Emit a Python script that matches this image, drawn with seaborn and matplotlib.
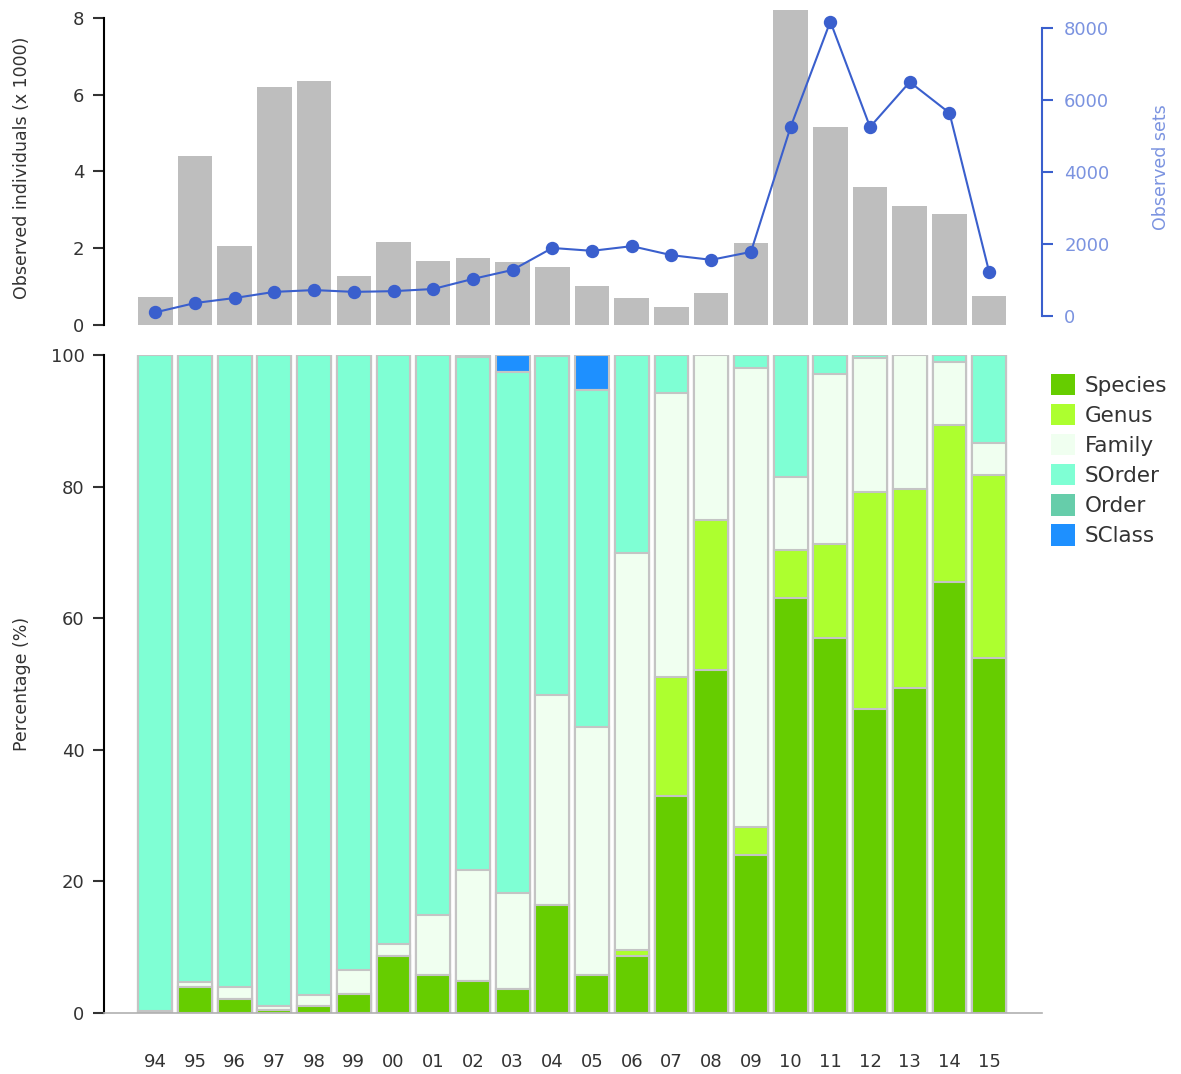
import numpy as np
import pandas as pd
import matplotlib.pyplot as plt
import seaborn as sns
from matplotlib.patches import Patch

years = ['94', '95', '96', '97', '98', '99', '00', '01', '02', '03', '04',
         '05', '06', '07', '08', '09', '10', '11', '12', '13', '14', '15']

# top panel: observed individuals (x 1000) and observed sets
individuals = [0.73, 4.40, 2.06, 6.20, 6.36, 1.28, 2.16, 1.67, 1.75, 1.64, 1.51,
               1.02, 0.70, 0.47, 0.83, 2.14, 8.30, 5.16, 3.60, 3.10, 2.89, 0.76]
obs_sets = [100, 360, 500, 670, 720, 670, 690, 750, 1030, 1280, 1890,
            1810, 1940, 1690, 1560, 1780, 5250, 8180, 5250, 6500, 5640, 1220]

# bottom panel: percentage per taxonomic level
species = [0, 3.9, 2.1, 0.5, 1.0, 2.9, 8.6, 5.8, 4.8, 3.6, 16.4,
           5.8, 8.6, 33.0, 52.1, 24.0, 63.1, 57.0, 46.2, 49.4, 65.5, 54.0]
genus = [0, 0, 0, 0, 0, 0, 0, 0, 0, 0, 0,
         0, 1.0, 18.1, 22.8, 4.3, 7.3, 14.3, 33.0, 30.2, 23.8, 27.8]
family = [0.3, 0.8, 1.8, 0.6, 1.7, 3.6, 1.9, 9.1, 16.9, 14.6, 31.9,
          37.7, 60.3, 43.2, 25.1, 69.8, 11.1, 25.8, 20.4, 20.4, 9.7, 4.9]
sorder = [99.7, 95.3, 96.1, 98.9, 97.3, 93.5, 89.5, 85.1, 78.0, 79.2, 51.5,
          51.2, 30.1, 5.7, 0, 1.9, 18.5, 2.9, 0.4, 0, 1.0, 13.3]
order = [0, 0, 0, 0, 0, 0, 0, 0, 0, 0, 0.2,
         0, 0, 0, 0, 0, 0, 0, 0, 0, 0, 0]
sclass = [0, 0, 0, 0, 0, 0, 0, 0, 0.3, 2.6, 0,
          5.3, 0, 0, 0, 0, 0, 0, 0, 0, 0, 0]

level_names = ['Species', 'Genus', 'Family', 'SOrder', 'Order', 'SClass']
level_colors = ['#66cd00', '#adff2f', '#f0fff0', '#7fffd4', '#66cdaa', '#1e90ff']

sns.set_style("white")
plt.rcParams['font.family'] = ['DejaVu Sans']
plt.rcParams['text.color'] = '#333333'
plt.rcParams['axes.labelcolor'] = '#333333'
plt.rcParams['xtick.color'] = '#333333'
plt.rcParams['ytick.color'] = '#333333'

W, H = 1181, 1074
fig = plt.figure(figsize=(W / 100, H / 100), dpi=100)


def box(l, t, r, b):
    return [l / W, 1 - b / H, (r - l) / W, (b - t) / H]


ax1 = fig.add_axes(box(104, 10, 1042, 325))
ax2 = fig.add_axes(box(104, 355, 1042, 1013))
xlim = (-1.29, 22.33)

# ---- top panel
top = pd.DataFrame({'year': years, 'ind': individuals, 'sets': obs_sets})
sns.barplot(data=top, x='year', y='ind', color='#bebebe', saturation=1,
            width=0.87, edgecolor='none', ax=ax1)
ax1.set_ylim(0, 8.2)
ax1.set_xlim(*xlim)
ax1.set_yticks([0, 2, 4, 6, 8])
ax1.set_xticks([])
ax1.set_xlabel('')
ax1.set_ylabel('Observed individuals (x 1000)', fontsize=12.5)
ax1.yaxis.set_label_coords(-0.078, 0.5)
for s in ['top', 'right', 'bottom']:
    ax1.spines[s].set_visible(False)
ax1.spines['left'].set_bounds(0, 8)
ax1.spines['left'].set_color('black')
ax1.spines['left'].set_linewidth(1.5)
ax1.tick_params(axis='y', length=8, width=1.5, labelsize=13, pad=6,
                direction='out', left=True)

ax1b = ax1.twinx()
sns.pointplot(data=top, x='year', y='sets', color='#3a5fcd', markers='o',
              markersize=8.5, linewidth=1.5, errorbar=None, ax=ax1b)
ax1b.set_xlim(*xlim)
ax1b.set_ylim(-250, 8500)
ax1b.set_yticks([0, 2000, 4000, 6000, 8000])
ax1b.set_xlabel('')
ax1b.set_ylabel('Observed sets', fontsize=12.5, color='#7b93e0')
ax1b.yaxis.set_label_coords(1.117, 0.5)
for s in ['top', 'left', 'bottom']:
    ax1b.spines[s].set_visible(False)
ax1b.spines['right'].set_bounds(0, 8000)
ax1b.spines['right'].set_color('#3a5fcd')
ax1b.spines['right'].set_linewidth(1.5)
ax1b.tick_params(axis='y', length=8, width=1.5, labelsize=13, pad=8,
                 color='#3a5fcd', labelcolor='#7b93e0', direction='out', right=True)

# ---- bottom panel: stacked bars, drawn tallest cumulative first
levels = [species, genus, family, sorder, order, sclass]
cum = np.cumsum(np.array(levels), axis=0)
for k in range(len(levels) - 1, -1, -1):
    sns.barplot(x=years, y=cum[k], color=level_colors[k], saturation=1,
                width=0.85, edgecolor='#c4c4c4', linewidth=1.5, ax=ax2)
ax2.set_xlim(*xlim)
ax2.set_ylim(0, 100)
ax2.set_yticks([0, 20, 40, 60, 80, 100])
ax2.set_ylabel('Percentage (%)', fontsize=12.5)
ax2.yaxis.set_label_coords(-0.078, 0.5)
ax2.set_xlabel('')
for s in ['top', 'right']:
    ax2.spines[s].set_visible(False)
ax2.spines['left'].set_bounds(0, 100)
ax2.spines['left'].set_color('black')
ax2.spines['left'].set_linewidth(1.5)
ax2.spines['bottom'].set_color('#b0b0b0')
ax2.spines['bottom'].set_linewidth(1.2)
ax2.tick_params(axis='y', length=8, width=1.5, labelsize=13, pad=6,
                direction='out', left=True)
ax2.tick_params(axis='x', length=0, pad=29, labelsize=13)

handles = [Patch(facecolor=c, edgecolor='none') for c in level_colors]
fig.legend(handles, level_names, loc='upper left',
           bbox_to_anchor=(1042 / W, 1 - 365 / H), frameon=False,
           fontsize=15.5, handlelength=1.15, handleheight=1.15,
           labelspacing=0.38, handletextpad=0.45, borderaxespad=0)

fig.savefig('out.png', dpi=100)
